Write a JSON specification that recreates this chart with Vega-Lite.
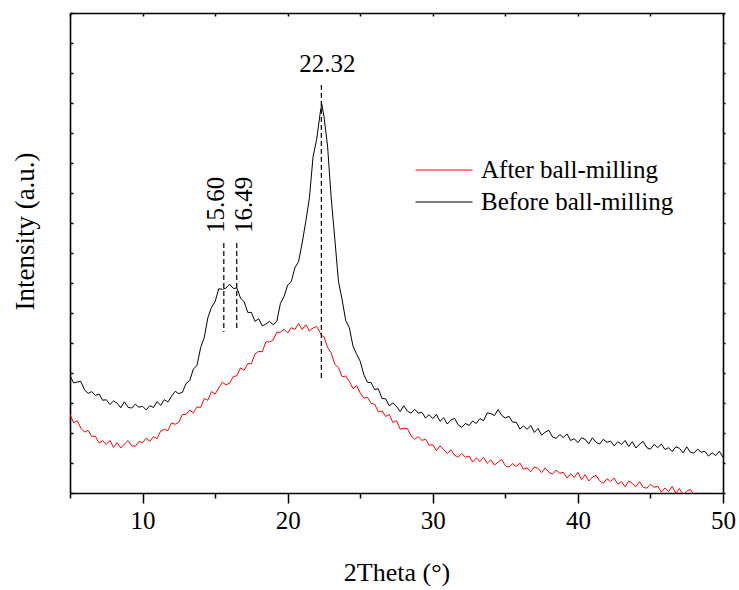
{
  "$schema": "https://vega.github.io/schema/vega-lite/v6.json",
  "width": 653,
  "height": 480,
  "autosize": {"type": "none"},
  "padding": {"left": 70, "top": 13, "right": 16, "bottom": 97},
  "background": "white",
  "config": {
    "font": "Liberation Serif",
    "view": {"stroke": null},
    "axis": {
      "domainColor": "black", "domainWidth": 1.6, "tickColor": "black", "tickWidth": 1.5,
      "labelColor": "black", "titleColor": "black", "labelFont": "Liberation Serif", "titleFont": "Liberation Serif",
      "labelFontSize": 25, "titleFontSize": 26, "titleFontWeight": "normal", "grid": false
    }
  },
  "datasets": {
    "xrd": [
      {"theta":5,"after":2.62,"before":3.91},{"theta":5.25,"after":2.34,"before":3.67},{"theta":5.5,"after":2.41,"before":3.70},{"theta":5.75,"after":2.16,"before":3.72},
      {"theta":6,"after":2.03,"before":3.44},{"theta":6.25,"after":2.09,"before":3.32},{"theta":6.5,"after":1.89,"before":3.38},{"theta":6.75,"after":1.89,"before":3.25},
      {"theta":7,"after":1.67,"before":3.30},{"theta":7.25,"after":1.74,"before":3.09},{"theta":7.5,"after":1.62,"before":3.11},{"theta":7.75,"after":1.75,"before":2.95},
      {"theta":8,"after":1.52,"before":3.07},{"theta":8.25,"after":1.68,"before":2.99},{"theta":8.5,"after":1.50,"before":2.84},{"theta":8.75,"after":1.63,"before":3.04},
      {"theta":9,"after":1.75,"before":2.86},{"theta":9.25,"after":1.57,"before":2.83},{"theta":9.5,"after":1.56,"before":2.96},{"theta":9.75,"after":1.72,"before":2.86},
      {"theta":10,"after":1.68,"before":2.89},{"theta":10.25,"after":1.83,"before":2.77},{"theta":10.5,"after":1.72,"before":2.91},{"theta":10.75,"after":1.88,"before":2.85},
      {"theta":11,"after":1.81,"before":3.05},{"theta":11.25,"after":2.07,"before":2.92},{"theta":11.5,"after":2.12,"before":3.11},{"theta":11.75,"after":2.08,"before":3.03},
      {"theta":12,"after":2.34,"before":3.23},{"theta":12.25,"after":2.29,"before":3.39},{"theta":12.5,"after":2.36,"before":3.31},{"theta":12.75,"after":2.62,"before":3.36},
      {"theta":13,"after":2.62,"before":3.65},{"theta":13.25,"after":2.76,"before":3.75},{"theta":13.5,"after":2.67,"before":4.13},{"theta":13.75,"after":2.87,"before":4.25},
      {"theta":14,"after":2.85,"before":4.84},{"theta":14.25,"after":3.15,"before":5.18},{"theta":14.5,"after":3.09,"before":5.84},{"theta":14.75,"after":3.38,"before":6.19},
      {"theta":15,"after":3.30,"before":6.38},{"theta":15.25,"after":3.50,"before":6.81},{"theta":15.5,"after":3.69,"before":6.79},{"theta":15.75,"after":3.61,"before":6.83},
      {"theta":16,"after":3.66,"before":6.96},{"theta":16.25,"after":3.88,"before":6.82},{"theta":16.5,"after":3.91,"before":6.83},{"theta":16.75,"after":4.17,"before":6.50},
      {"theta":17,"after":4.09,"before":6.37},{"theta":17.25,"after":4.31,"before":6.02},{"theta":17.5,"after":4.31,"before":6.02},{"theta":17.75,"after":4.64,"before":5.72},
      {"theta":18,"after":4.72,"before":5.81},{"theta":18.25,"after":4.71,"before":5.57},{"theta":18.5,"after":5.04,"before":5.63},{"theta":18.75,"after":5.03,"before":5.72},
      {"theta":19,"after":5.10,"before":5.61},{"theta":19.25,"after":5.36,"before":5.72},{"theta":19.5,"after":5.36,"before":6.32},{"theta":19.75,"after":5.46,"before":6.55},
      {"theta":20,"after":5.33,"before":6.93},{"theta":20.25,"after":5.51,"before":7.05},{"theta":20.5,"after":5.45,"before":7.51},{"theta":20.75,"after":5.65,"before":7.71},
      {"theta":21,"after":5.45,"before":8.34},{"theta":21.25,"after":5.61,"before":9.05},{"theta":21.5,"after":5.40,"before":9.84},{"theta":21.75,"after":5.50,"before":11.21},
      {"theta":22,"after":5.55,"before":11.79},{"theta":22.25,"after":5.34,"before":12.70},{"theta":22.35,"after":5.24,"before":12.96},{"theta":22.5,"after":5.22,"before":12.56},
      {"theta":22.75,"after":4.85,"before":11.56},{"theta":23,"after":4.67,"before":9.83},{"theta":23.25,"after":4.29,"before":8.47},{"theta":23.5,"after":4.18,"before":7.05},
      {"theta":23.75,"after":3.88,"before":6.45},{"theta":24,"after":3.90,"before":5.75},{"theta":24.25,"after":3.72,"before":5.51},{"theta":24.5,"after":3.48,"before":4.90},
      {"theta":24.75,"after":3.58,"before":4.63},{"theta":25,"after":3.33,"before":4.39},{"theta":25.25,"after":3.16,"before":3.94},{"theta":25.5,"after":3.19,"before":3.69},
      {"theta":25.75,"after":2.99,"before":3.68},{"theta":26,"after":2.96,"before":3.45},{"theta":26.25,"after":2.70,"before":3.47},{"theta":26.5,"after":2.74,"before":3.15},
      {"theta":26.75,"after":2.55,"before":3.14},{"theta":27,"after":2.62,"before":2.91},{"theta":27.25,"after":2.35,"before":3.00},{"theta":27.5,"after":2.41,"before":2.89},
      {"theta":27.75,"after":2.13,"before":2.71},{"theta":28,"after":2.16,"before":2.91},{"theta":28.25,"after":2.15,"before":2.73},{"theta":28.5,"after":1.91,"before":2.66},
      {"theta":28.75,"after":1.79,"before":2.79},{"theta":29,"after":1.88,"before":2.66},{"theta":29.25,"after":1.75,"before":2.69},{"theta":29.5,"after":1.80,"before":2.50},
      {"theta":29.75,"after":1.59,"before":2.61},{"theta":30,"after":1.61,"before":2.48},{"theta":30.25,"after":1.41,"before":2.62},{"theta":30.5,"after":1.57,"before":2.39},
      {"theta":30.75,"after":1.45,"before":2.51},{"theta":31,"after":1.31,"before":2.30},{"theta":31.25,"after":1.44,"before":2.43},{"theta":31.5,"after":1.26,"before":2.49},
      {"theta":31.75,"after":1.20,"before":2.27},{"theta":32,"after":1.32,"before":2.19},{"theta":32.25,"after":1.19,"before":2.32},{"theta":32.5,"after":1.23,"before":2.25},
      {"theta":32.75,"after":1.03,"before":2.40},{"theta":33,"after":1.17,"before":2.32},{"theta":33.25,"after":1.05,"before":2.48},{"theta":33.5,"after":1.19,"before":2.41},
      {"theta":33.75,"after":0.99,"before":2.67},{"theta":34,"after":1.11,"before":2.65},{"theta":34.25,"after":0.93,"before":2.58},{"theta":34.5,"after":1.03,"before":2.78},
      {"theta":34.75,"after":1.12,"before":2.59},{"theta":35,"after":0.91,"before":2.50},{"theta":35.25,"after":0.86,"before":2.56},{"theta":35.5,"after":0.98,"before":2.36},
      {"theta":35.75,"after":0.88,"before":2.36},{"theta":36,"after":1.00,"before":2.13},{"theta":36.25,"after":0.79,"before":2.24},{"theta":36.5,"after":0.84,"before":2.12},
      {"theta":36.75,"after":0.71,"before":2.25},{"theta":37,"after":0.87,"before":2.02},{"theta":37.25,"after":0.82,"before":2.15},{"theta":37.5,"after":0.68,"before":1.93},
      {"theta":37.75,"after":0.84,"before":2.03},{"theta":38,"after":0.69,"before":2.09},{"theta":38.25,"after":0.63,"before":1.87},{"theta":38.5,"after":0.76,"before":1.82},
      {"theta":38.75,"after":0.66,"before":1.95},{"theta":39,"after":0.69,"before":1.85},{"theta":39.25,"after":0.50,"before":1.97},{"theta":39.5,"after":0.64,"before":1.75},
      {"theta":39.75,"after":0.52,"before":1.81},{"theta":40,"after":0.69,"before":1.68},{"theta":40.25,"after":0.45,"before":1.84},{"theta":40.5,"after":0.61,"before":1.79},
      {"theta":40.75,"after":0.40,"before":1.64},{"theta":41,"after":0.53,"before":1.84},{"theta":41.25,"after":0.59,"before":1.69},{"theta":41.5,"after":0.41,"before":1.63},
      {"theta":41.75,"after":0.32,"before":1.79},{"theta":42,"after":0.48,"before":1.69},{"theta":42.25,"after":0.38,"before":1.73},{"theta":42.5,"after":0.50,"before":1.57},
      {"theta":42.75,"after":0.29,"before":1.71},{"theta":43,"after":0.38,"before":1.62},{"theta":43.25,"after":0.21,"before":1.75},{"theta":43.5,"after":0.40,"before":1.55},
      {"theta":43.75,"after":0.32,"before":1.71},{"theta":44,"after":0.21,"before":1.50},{"theta":44.25,"after":0.38,"before":1.63},{"theta":44.5,"after":0.19,"before":1.72},
      {"theta":44.75,"after":0.16,"before":1.51},{"theta":45,"after":0.29,"before":1.46},{"theta":45.25,"after":0.19,"before":1.62},{"theta":45.5,"after":0.23,"before":1.51},
      {"theta":45.75,"after":0.03,"before":1.63},{"theta":46,"after":0.17,"before":1.45},{"theta":46.25,"after":0.05,"before":1.51},{"theta":46.5,"after":0.22,"before":1.38},
      {"theta":46.75,"after":-0.01,"before":1.54},{"theta":47,"after":0.15,"before":1.49},{"theta":47.25,"after":-0.07,"before":1.34},{"theta":47.5,"after":0.06,"before":1.54},
      {"theta":47.75,"after":0.12,"before":1.36},{"theta":48,"after":-0.06,"before":1.33},{"theta":48.25,"after":-0.14,"before":1.46},{"theta":48.5,"after":0.00,"before":1.36},
      {"theta":48.75,"after":-0.10,"before":1.39},{"theta":49,"after":0.00,"before":1.23},{"theta":49.25,"after":-0.20,"before":1.34},{"theta":49.5,"after":-0.14,"before":1.25},
      {"theta":49.75,"after":-0.29,"before":1.39},{"theta":50,"after":-0.13,"before":1.19}
    ],
    "peaks": [
      {"peak": 15.60, "label": "15.60", "top": 8.33, "bottom": 5.37},
      {"peak": 16.49, "label": "16.49", "top": 8.33, "bottom": 5.43},
      {"peak": 22.32, "label": "22.32", "top": 13.6, "bottom": 3.77}
    ]
  },
  "layer": [
    {
      "data": {"name": "xrd"},
      "transform": [{"fold": ["after", "before"], "as": ["sample", "intensity"]}],
      "mark": {"type": "line", "strokeWidth": 1, "clip": true},
      "encoding": {
        "x": {
          "field": "theta", "type": "quantitative",
          "scale": {"domain": [5, 50], "nice": false, "zero": false},
          "axis": {
            "orient": "bottom", "values": [5, 10, 15, 20, 25, 30, 35, 40, 45, 50],
            "labelExpr": "datum.value % 10 == 0 ? datum.label : ''",
            "tickSize": {"condition": {"test": "datum.value % 10 == 0", "value": 10}, "value": 5},
            "labelBaseline": "alphabetic", "labelPadding": 25, "labelFlush": false, "labelOverlap": false,
            "title": "2Theta (°)", "titleX": 326.5, "titleY": 87, "titleBaseline": "alphabetic", "titleAlign": "center"
          }
        },
        "y": {
          "field": "intensity", "type": "quantitative",
          "scale": {"domain": [0, 16], "nice": false, "zero": false},
          "axis": {
            "orient": "left", "values": [0,1,2,3,4,5,6,7,8,9,10,11,12,13,14,15,16],
            "labels": false, "tickSize": -3,
            "title": "Intensity (a.u.)", "titleFontSize": 27, "titleAngle": -90, "titleX": -37, "titleY": 218,
            "titleBaseline": "alphabetic", "titleAlign": "center"
          }
        },
        "color": {
          "field": "sample", "type": "nominal",
          "scale": {"domain": ["after", "before"], "range": ["#ff0000", "#000000"]},
          "legend": {
            "orient": "none", "legendX": 345, "legendY": 143.5, "title": null,
            "symbolType": "stroke", "symbolSize": 3249, "symbolStrokeWidth": 1,
            "labelFont": "Liberation Serif", "labelFontSize": 25, "labelColor": "black", "labelOffset": 8,
            "clipHeight": 27, "rowPadding": 5, "labelLimit": 400,
            "labelExpr": "datum.value == 'after' ? 'After ball-milling' : 'Before ball-milling'"
          }
        }
      }
    },
    {
      "data": {"name": "peaks"},
      "mark": {"type": "rule", "strokeDash": [5, 3], "strokeWidth": 1.2, "color": "black"},
      "encoding": {
        "x": {
          "field": "peak", "type": "quantitative",
          "scale": {"domain": [5, 50], "nice": false, "zero": false},
          "axis": {"orient": "top", "values": [5, 10, 15, 20, 25, 30, 35, 40, 45, 50], "labels": false, "tickSize": -3, "title": null}
        },
        "y": {
          "field": "top", "type": "quantitative",
          "scale": {"domain": [0, 16], "nice": false, "zero": false},
          "axis": {"orient": "right", "values": [0,1,2,3,4,5,6,7,8,9,10,11,12,13,14,15,16], "labels": false, "tickSize": 2, "title": null}
        },
        "y2": {"field": "bottom"}
      }
    },
    {
      "data": {"name": "peaks"},
      "transform": [{"filter": "datum.label == '22.32'"}],
      "mark": {"type": "text", "fontSize": 25, "align": "center", "baseline": "alphabetic", "dx": 6, "dy": -13, "color": "black"},
      "encoding": {
        "x": {"field": "peak", "type": "quantitative", "axis": null},
        "y": {"field": "top", "type": "quantitative", "axis": null},
        "text": {"field": "label"}
      }
    },
    {
      "data": {"name": "peaks"},
      "transform": [{"filter": "datum.label == '15.60'"}],
      "mark": {"type": "text", "fontSize": 25, "angle": -90, "align": "left", "baseline": "alphabetic", "dx": 10, "dy": 0, "color": "black"},
      "encoding": {
        "x": {"field": "peak", "type": "quantitative", "axis": null},
        "y": {"field": "top", "type": "quantitative", "axis": null},
        "text": {"field": "label"}
      }
    },
    {
      "data": {"name": "peaks"},
      "transform": [{"filter": "datum.label == '16.49'"}],
      "mark": {"type": "text", "fontSize": 25, "angle": -90, "align": "left", "baseline": "alphabetic", "dx": 10, "dy": 15, "color": "black"},
      "encoding": {
        "x": {"field": "peak", "type": "quantitative", "axis": null},
        "y": {"field": "top", "type": "quantitative", "axis": null},
        "text": {"field": "label"}
      }
    }
  ],
  "resolve": {"axis": {"x": "independent", "y": "independent"}}
}
